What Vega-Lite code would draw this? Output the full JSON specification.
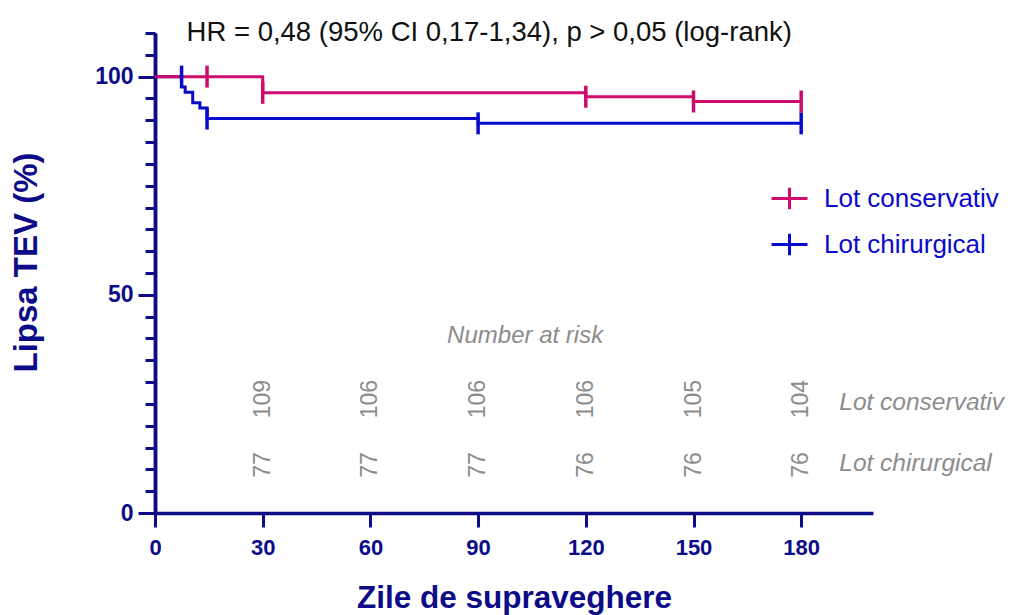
{
  "$schema": "https://vega.github.io/schema/vega-lite/v6.json",
  "autosize": {"type": "none"},
  "padding": {"left": 155, "top": 33, "right": 137, "bottom": 102},
  "width": 718,
  "height": 480,
  "background": "white",
  "config": {"view": {"stroke": null}, "font": "Liberation Sans"},
  "datasets": {
    "curves": [
      {"group": "Lot chirurgical", "day": 0, "surv": 100},
      {"group": "Lot chirurgical", "day": 7.4, "surv": 97.6},
      {"group": "Lot chirurgical", "day": 8.4, "surv": 96.4},
      {"group": "Lot chirurgical", "day": 10.5, "surv": 94.0},
      {"group": "Lot chirurgical", "day": 12.5, "surv": 92.8},
      {"group": "Lot chirurgical", "day": 14.5, "surv": 90.4},
      {"group": "Lot chirurgical", "day": 90, "surv": 89.3},
      {"group": "Lot chirurgical", "day": 180, "surv": 89.3},
      {"group": "Lot conservativ", "day": 0, "surv": 100},
      {"group": "Lot conservativ", "day": 30, "surv": 96.3},
      {"group": "Lot conservativ", "day": 120, "surv": 95.4},
      {"group": "Lot conservativ", "day": 150, "surv": 94.3},
      {"group": "Lot conservativ", "day": 180, "surv": 94.3}
    ],
    "censor": [
      {"group": "Lot chirurgical", "day": 7.4, "surv": 100},
      {"group": "Lot chirurgical", "day": 14.5, "surv": 90.4},
      {"group": "Lot chirurgical", "day": 90, "surv": 89.3},
      {"group": "Lot chirurgical", "day": 180, "surv": 89.3},
      {"group": "Lot conservativ", "day": 14.5, "surv": 100},
      {"group": "Lot conservativ", "day": 30, "surv": 96.3},
      {"group": "Lot conservativ", "day": 120, "surv": 95.4},
      {"group": "Lot conservativ", "day": 150, "surv": 94.3},
      {"group": "Lot conservativ", "day": 180, "surv": 94.3}
    ],
    "risk": [
      {"group": "Lot conservativ", "day": 30, "n": "109"},
      {"group": "Lot conservativ", "day": 60, "n": "106"},
      {"group": "Lot conservativ", "day": 90, "n": "106"},
      {"group": "Lot conservativ", "day": 120, "n": "106"},
      {"group": "Lot conservativ", "day": 150, "n": "105"},
      {"group": "Lot conservativ", "day": 180, "n": "104"},
      {"group": "Lot chirurgical", "day": 30, "n": "77"},
      {"group": "Lot chirurgical", "day": 60, "n": "77"},
      {"group": "Lot chirurgical", "day": 90, "n": "77"},
      {"group": "Lot chirurgical", "day": 120, "n": "76"},
      {"group": "Lot chirurgical", "day": 150, "n": "76"},
      {"group": "Lot chirurgical", "day": 180, "n": "76"}
    ]
  },
  "layer": [
    {
      "data": {"name": "curves"},
      "mark": {"type": "line", "interpolate": "step-after", "strokeWidth": 3},
      "encoding": {
        "x": {
          "field": "day", "type": "quantitative",
          "scale": {"domain": [0, 200], "nice": false, "zero": false},
          "axis": {
            "values": [0, 30, 60, 90, 120, 150, 180],
            "grid": false,
            "domainColor": "#0C0C88", "domainWidth": 3.5,
            "tickColor": "#0C0C88", "tickWidth": 3, "tickSize": 14,
            "labelColor": "#0C0C88", "labelFont": "Liberation Sans", "labelFontWeight": "bold", "labelFontSize": 22,
            "labelPadding": 10, "labelFlush": false, "labelOverlap": false,
            "title": "Zile de supraveghere",
            "titleColor": "#0C0C88", "titleFont": "Liberation Sans", "titleFontWeight": "bold", "titleFontSize": 31.5,
            "titlePadding": 24
          }
        },
        "y": {
          "field": "surv", "type": "quantitative",
          "scale": {"domain": [0, 110], "nice": false, "zero": false},
          "axis": {
            "orient": "left",
            "values": [0, 5, 10, 15, 20, 25, 30, 35, 40, 45, 50, 55, 60, 65, 70, 75, 80, 85, 90, 95, 100, 105, 110],
            "grid": false, "labels": false, "title": null,
            "domainColor": "#0C0C88", "domainWidth": 3.5,
            "tickColor": "#0C0C88", "tickWidth": 3, "tickSize": 10
          }
        },
        "color": {
          "field": "group", "type": "nominal",
          "scale": {"domain": ["Lot conservativ", "Lot chirurgical"], "range": ["#CE0A6C", "#0A0ACC"]},
          "legend": {
            "orient": "none", "legendX": 615, "legendY": 146,
            "title": null, "padding": 0,
            "symbolType": "M-1,0H1M0,-0.6V0.6",
            "symbolSize": 1296, "symbolStrokeWidth": 3,
            "labelFont": "Liberation Sans", "labelFontSize": 26, "labelColor": "#0A0ACC",
            "labelOffset": 15, "rowPadding": 9, "labelLimit": 400
          }
        }
      }
    },
    {
      "data": {"name": "censor"},
      "mark": {"type": "tick", "orient": "vertical", "size": 22, "thickness": 3.5, "opacity": 1},
      "encoding": {
        "x": {"field": "day", "type": "quantitative", "axis": null},
        "y": {
          "field": "surv", "type": "quantitative",
          "axis": {
            "orient": "left",
            "values": [0, 50, 100],
            "grid": false,
            "domainColor": "#0C0C88", "domainWidth": 3.5,
            "tickColor": "#0C0C88", "tickWidth": 3, "tickSize": 17,
            "labelColor": "#0C0C88", "labelFont": "Liberation Sans", "labelFontWeight": "bold", "labelFontSize": 23,
            "labelPadding": 5, "labelFlush": false, "labelOverlap": false,
            "title": "Lipsa TEV (%)",
            "titleColor": "#0C0C88", "titleFont": "Liberation Sans", "titleFontWeight": "bold", "titleFontSize": 33,
            "titleX": -112, "titleY": 229
          }
        },
        "color": {"field": "group", "type": "nominal", "legend": null}
      }
    },
    {
      "data": {"name": "risk"},
      "transform": [{"filter": "datum.group === 'Lot conservativ'"}],
      "mark": {"type": "text", "angle": 270, "align": "center", "baseline": "middle", "font": "Liberation Sans", "fontSize": 23, "color": "#8C8C8C"},
      "encoding": {
        "x": {"field": "day", "type": "quantitative", "axis": null},
        "y": {"datum": 26.1, "type": "quantitative", "axis": null},
        "text": {"field": "n"}
      }
    },
    {
      "data": {"name": "risk"},
      "transform": [{"filter": "datum.group === 'Lot chirurgical'"}],
      "mark": {"type": "text", "angle": 270, "align": "center", "baseline": "middle", "font": "Liberation Sans", "fontSize": 23, "color": "#8C8C8C"},
      "encoding": {
        "x": {"field": "day", "type": "quantitative", "axis": null},
        "y": {"datum": 11.0, "type": "quantitative", "axis": null},
        "text": {"field": "n"}
      }
    },
    {
      "data": {"values": [{"label": "Lot conservativ", "pos": 25.2}, {"label": "Lot chirurgical", "pos": 11.2}]},
      "mark": {"type": "text", "align": "left", "baseline": "middle", "font": "Liberation Sans", "fontStyle": "italic", "fontSize": 24.5, "color": "#8C8C8C"},
      "encoding": {
        "x": {"datum": 190.6, "type": "quantitative", "axis": null},
        "y": {"field": "pos", "type": "quantitative", "axis": null},
        "text": {"field": "label"}
      }
    },
    {
      "data": {"values": [{"label": "Number at risk"}]},
      "mark": {"type": "text", "align": "center", "baseline": "middle", "font": "Liberation Sans", "fontStyle": "italic", "fontSize": 24, "color": "#8C8C8C"},
      "encoding": {
        "x": {"datum": 103.1, "type": "quantitative", "axis": null},
        "y": {"datum": 40.6, "type": "quantitative", "axis": null},
        "text": {"field": "label"}
      }
    },
    {
      "data": {"values": [{"label": "HR = 0,48 (95% CI 0,17-1,34), p > 0,05 (log-rank)"}]},
      "mark": {"type": "text", "align": "center", "baseline": "middle", "font": "Liberation Sans", "fontSize": 27.5, "color": "#111111"},
      "encoding": {
        "x": {"datum": 93.1, "type": "quantitative", "axis": null},
        "y": {"datum": 110.0, "type": "quantitative", "axis": null},
        "text": {"field": "label"}
      }
    }
  ],
  "resolve": {"axis": {"x": "independent", "y": "independent"}}
}
